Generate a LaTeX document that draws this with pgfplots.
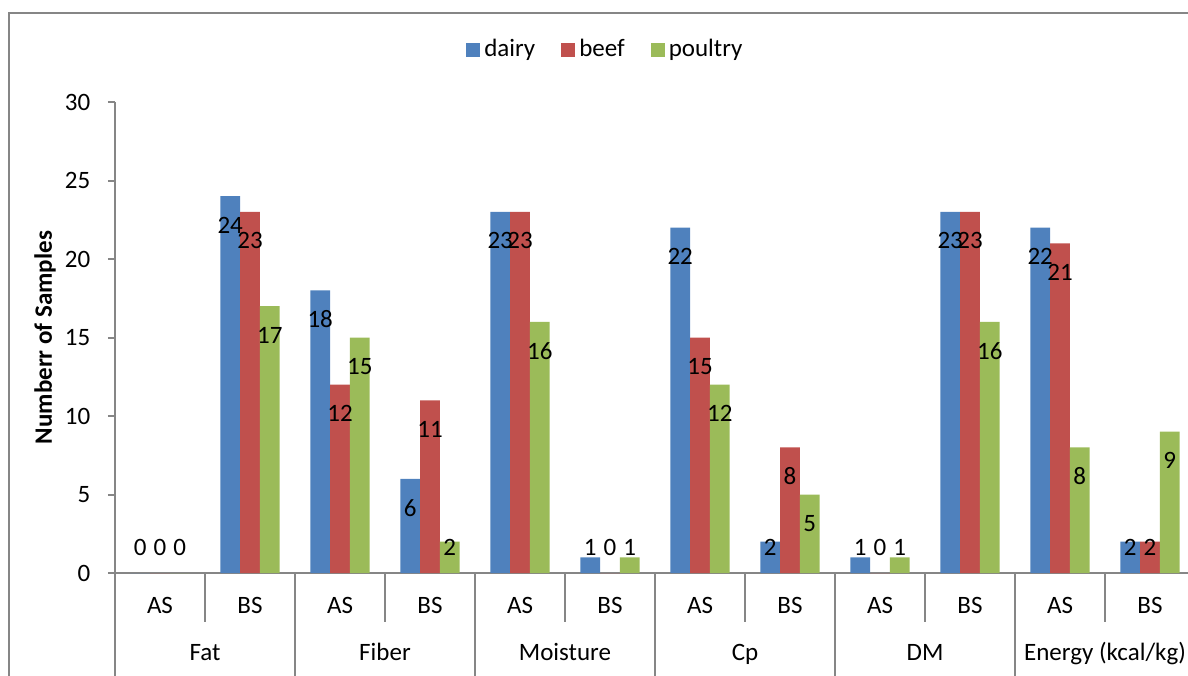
\documentclass[border=0pt]{standalone}
\usepackage{fontspec}
\setmainfont{Carlito}
\usepackage{pgfplots}
\pgfplotsset{compat=1.18}
\usepackage{pgfplotstable}
\definecolor{cdairy}{HTML}{4F81BD}
\definecolor{cbeef}{HTML}{C0504D}
\definecolor{cpoultry}{HTML}{9BBB59}
\definecolor{axgray}{HTML}{868686}
\pgfplotsset{/pgf/number format/assume math mode=true}
\pgfplotstableread{
x dairy beef poultry
0 0 0 0
1 24 23 17
2 18 12 15
3 6 11 2
4 23 23 16
5 1 0 1
6 22 15 12
7 2 8 5
8 1 0 1
9 23 23 16
10 22 21 8
11 2 2 9
}\datatable
\begin{document}
\fontsize{12.5}{15}\selectfont
\begin{tikzpicture}
\useasboundingbox (0pt,0pt) rectangle (594pt,337.5pt);
\clip (0pt,0pt) rectangle (594pt,337.5pt);
\draw[axgray, line width=0.9pt] (4.5pt,-10pt) -- (4.5pt,331pt) -- (620pt,331pt);
\begin{axis}[
  at={(57.5pt,51pt)}, anchor=south west,
  scale only axis, width=540pt, height=235.5pt,
  xmin=-0.5, xmax=11.5, ymin=0, ymax=30,
  clip=false,
  ybar=0pt, bar width=9.9pt,
  axis x line*=bottom, axis y line*=left,
  axis line style={-, axgray, line width=1pt},
  ytick={0,5,...,30},
  tick align=outside, major tick length=3.5pt,
  y tick style={axgray, line width=1pt},
  x tick style={draw=none},
  xtick={0,...,11},
  xticklabels={AS,BS,AS,BS,AS,BS,AS,BS,AS,BS,AS,BS},
  xticklabel style={anchor=base, yshift=-16.5pt},
  yticklabel style={anchor=east, xshift=-4.5pt},
  every axis y label/.style={at={(axis description cs:-0.0648,0.5)}, rotate=90, anchor=center},
  ylabel={\bfseries Numberr of Samples},
  legend columns=3,
  legend style={draw=none, fill=none, at={(axis description cs:0.455,1.1104)}, anchor=center,
    /tikz/every even column/.append style={column sep=11pt}},
  legend image code/.code={\fill[#1] (0pt,-3.5pt) rectangle (7pt,3.5pt);},
  nodes near coords,
  visualization depends on={y \as \rawy},
  every node near coord/.append style={anchor=center, text=black,
    yshift={(max(\rawy-1.85,1.6)-\rawy)*7.85pt}},
]
\addplot[fill=cdairy, draw=none] table[x=x, y=dairy] {\datatable};
\addplot[fill=cbeef, draw=none] table[x=x, y=beef] {\datatable};
\addplot[fill=cpoultry, draw=none] table[x=x, y=poultry] {\datatable};
\legend{dairy, beef, poultry}
\draw[axgray, line width=1pt] (axis cs:-0.5,0) -- ++(0pt,-60pt);
\draw[axgray, line width=1pt] (axis cs:1.5,0) -- ++(0pt,-60pt);
\draw[axgray, line width=1pt] (axis cs:3.5,0) -- ++(0pt,-60pt);
\draw[axgray, line width=1pt] (axis cs:5.5,0) -- ++(0pt,-60pt);
\draw[axgray, line width=1pt] (axis cs:7.5,0) -- ++(0pt,-60pt);
\draw[axgray, line width=1pt] (axis cs:9.5,0) -- ++(0pt,-60pt);
\draw[axgray, line width=1pt] (axis cs:11.5,0) -- ++(0pt,-60pt);
\draw[axgray, line width=1pt] (axis cs:0.5,0) -- ++(0pt,-24.5pt);
\draw[axgray, line width=1pt] (axis cs:2.5,0) -- ++(0pt,-24.5pt);
\draw[axgray, line width=1pt] (axis cs:4.5,0) -- ++(0pt,-24.5pt);
\draw[axgray, line width=1pt] (axis cs:6.5,0) -- ++(0pt,-24.5pt);
\draw[axgray, line width=1pt] (axis cs:8.5,0) -- ++(0pt,-24.5pt);
\draw[axgray, line width=1pt] (axis cs:10.5,0) -- ++(0pt,-24.5pt);
\node[anchor=base] at ([yshift=-43.5pt]axis cs:0.5,0) {Fat};
\node[anchor=base] at ([yshift=-43.5pt]axis cs:2.5,0) {Fiber};
\node[anchor=base] at ([yshift=-43.5pt]axis cs:4.5,0) {Moisture};
\node[anchor=base] at ([yshift=-43.5pt]axis cs:6.5,0) {Cp};
\node[anchor=base] at ([yshift=-43.5pt]axis cs:8.5,0) {DM};
\node[anchor=base] at ([yshift=-43.5pt]axis cs:10.5,0) {Energy (kcal/kg)};
\end{axis}
\end{tikzpicture}
\end{document}
